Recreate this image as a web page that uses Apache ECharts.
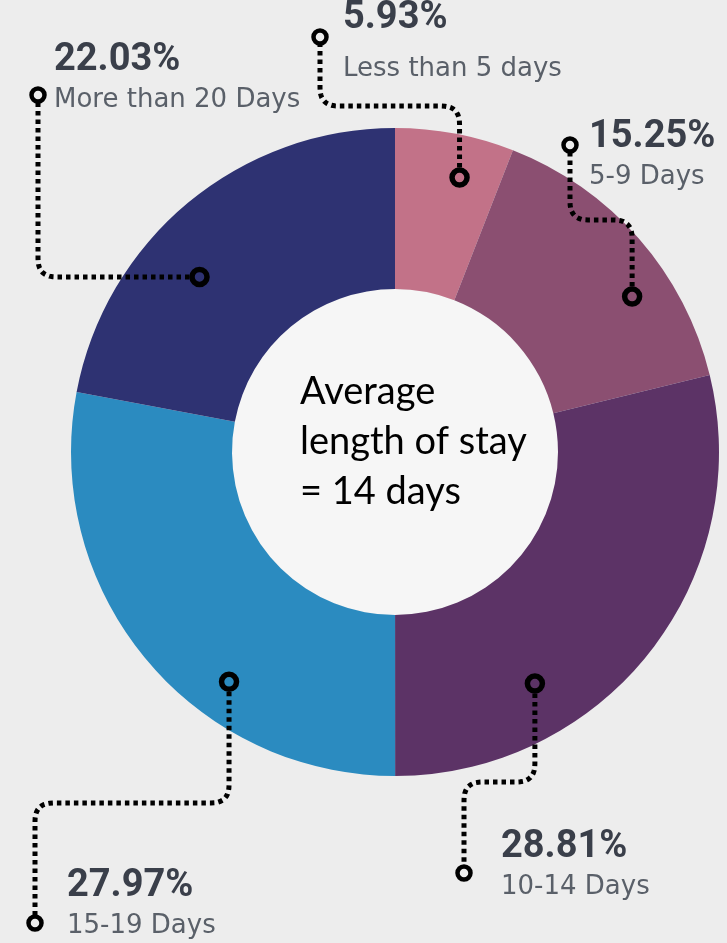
<!DOCTYPE html>
<html>
<head>
<meta charset="utf-8">
<script src="https://cdn.jsdelivr.net/npm/echarts@6/dist/echarts.min.js"></script>
<style>
html,body{margin:0;padding:0;background:#ededed;}
#c{width:727px;height:943px;}
</style>
</head>
<body>
<div id="c"></div>
<script>
// ---------- data ----------
const categories = ['Less than 5 days', '5-9 Days', '10-14 Days', '15-19 Days', 'More than 20 Days'];
const percentages = [5.93, 15.25, 28.81, 27.97, 22.03];
const sliceColors = ['#c27288', '#8b4f71', '#5c3366', '#2b8bc0', '#2e3272'];
const centerLines = ['Average', 'length of stay', '= 14 days'];

// ---------- layout ----------
const CX = 395, CY = 452, R0 = 163, R = 324;
// where the pin sits inside each slice: [fraction along slice angle, fraction of outer radius]
const markerSpot = [[0.62, 0.87], [0.645, 0.875], [0.70, 0.835], [0.356, 0.875], [0.393, 0.81]];
// label text block (top-left), end pin, and route shape of the leader line
const labelSpots = [
  { x: 343, y: -2,  end: [320, 37],  route: 'vhv', mid: 106, rich: 'n2' },
  { x: 589, y: 117, end: [570, 145], route: 'vhv', mid: 220, rich: 'n' },
  { x: 501, y: 827, end: [464, 873], route: 'vhv', mid: 782, rich: 'n' },
  { x: 67,  y: 866, end: [35, 923],  route: 'vhv', mid: 803, rich: 'n' },
  { x: 54,  y: 40,  end: [38, 95],   route: 'hv',  rich: 'n' }
];

const total = percentages.reduce((a, b) => a + b, 0);
const cumStart = [];
{ let acc = 0; percentages.forEach(v => { cumStart.push(acc); acc += v; }); }
const markerData = percentages.map((v, i) => [markerSpot[i][1], cumStart[i] + markerSpot[i][0] * v]);

const chart = echarts.init(document.getElementById('c'));

const baseOption = {
  backgroundColor: '#ededed',
  animation: false,
  title: {
    text: centerLines.join('\n'), left: 300, top: 367, padding: 0,
    textStyle: { fontFamily: 'Lato', fontWeight: 'normal', fontSize: 38, lineHeight: 50, color: '#000' }
  },
  polar: { center: [CX, CY], radius: R },
  angleAxis: { type: 'value', min: 0, max: total, startAngle: 90, clockwise: true, show: false },
  radiusAxis: { type: 'value', min: 0, max: 1, show: false },
  series: [
    {
      type: 'pie', name: 'hole', radius: [0, R0], center: [CX, CY], silent: true, z: 1,
      data: [{ value: 1, name: 'hole' }],
      itemStyle: { color: '#f6f6f6' },
      emphasis: { disabled: true },
      label: { show: false }, labelLine: { show: false }
    },
    {
      type: 'pie', name: 'stay', radius: [R0, R], center: [CX, CY], startAngle: 90, clockwise: true,
      avoidLabelOverlap: false, z: 2,
      emphasis: { disabled: true },
      data: categories.map((c, i) => ({ name: c, value: percentages[i], itemStyle: { color: sliceColors[i] } })),
      label: {
        show: true, position: 'outside',
        formatter: p => '{p|' + p.value.toFixed(2) + '%}\n{' + labelSpots[p.dataIndex].rich + '|' + p.name + '}',
        rich: {
          p: { fontFamily: 'Roboto', fontWeight: 'bold', fontSize: 38, color: '#3a3f4a', lineHeight: 40 },
          n: { fontFamily: 'DejaVu Sans', fontSize: 26, color: '#5a6069', lineHeight: 40 },
          n2: { fontFamily: 'DejaVu Sans', fontSize: 26, color: '#5a6069', lineHeight: 62 }
        }
      },
      labelLine: { show: false }
    },
    {
      type: 'scatter', coordinateSystem: 'polar', data: markerData, silent: true, z: 20,
      symbol: 'circle', symbolSize: 15,
      itemStyle: { color: 'rgba(0,0,0,0)', borderColor: '#000', borderWidth: 5.5, opacity: 1 }
    }
  ]
};
chart.setOption(baseOption);

function trim(a, b, d) {
  const l = Math.hypot(b[0] - a[0], b[1] - a[1]);
  return [a[0] + (b[0] - a[0]) / l * d, a[1] + (b[1] - a[1]) / l * d];
}
function rounded(pts, rad) {
  const out = [pts[0]];
  for (let i = 1; i < pts.length - 1; i++) {
    const A = pts[i - 1], P = pts[i], B = pts[i + 1];
    const la = Math.hypot(P[0] - A[0], P[1] - A[1]), lb = Math.hypot(B[0] - P[0], B[1] - P[1]);
    const r = Math.min(rad, la / 2, lb / 2);
    const p1 = [P[0] + (A[0] - P[0]) / la * r, P[1] + (A[1] - P[1]) / la * r];
    const p2 = [P[0] + (B[0] - P[0]) / lb * r, P[1] + (B[1] - P[1]) / lb * r];
    for (let k = 0; k <= 10; k++) {
      const t = k / 10, u = 1 - t;
      out.push([u * u * p1[0] + 2 * u * t * P[0] + t * t * p2[0], u * u * p1[1] + 2 * u * t * P[1] + t * t * p2[1]]);
    }
  }
  out.push(pts[pts.length - 1]);
  return out;
}

const startPts = markerData.map(d => chart.convertToPixel({ seriesIndex: 2 }, d));
const routes = labelSpots.map((s, i) => {
  const S = startPts[i], E = s.end;
  let pts;
  if (s.route === 'vhv') pts = [S, [S[0], s.mid], [E[0], s.mid], E];
  else pts = [S, [E[0], S[1]], E];
  pts[0] = trim(pts[0], pts[1], 10);
  pts[pts.length - 1] = trim(pts[pts.length - 1], pts[pts.length - 2], 8);
  return rounded(pts, 18);
});

chart.setOption({
  series: [{}, {
    labelLayout: p => {
      const s = labelSpots[p.dataIndex];
      return { x: s.x, y: s.y, align: 'left', verticalAlign: 'top' };
    }
  }, {}],
  graphic: routes.map(pts => ({
    type: 'polyline', z: 90, silent: true,
    shape: { points: pts },
    style: { fill: null, stroke: '#000', lineWidth: 5, lineDash: [4.5, 4] }
  })).concat(labelSpots.map(s => ({
    type: 'circle', z: 100, silent: true,
    shape: { cx: s.end[0], cy: s.end[1], r: 6.5 },
    style: { fill: 'none', stroke: '#000', lineWidth: 4.5 }
  })))
});
</script>
</body>
</html>
